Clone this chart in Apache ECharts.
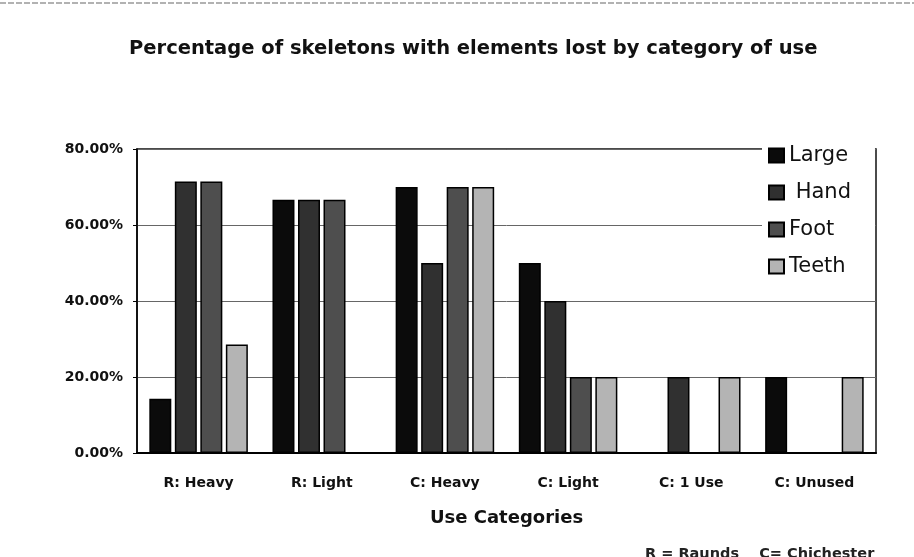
<!DOCTYPE html>
<html>
<head>
<meta charset="utf-8">
<script src="https://cdn.jsdelivr.net/npm/echarts@6/dist/echarts.min.js"></script>
<style>
  html, body { margin: 0; padding: 0; background: #fff; }
  #chart { width: 914px; height: 557px; }
</style>
</head>
<body>
<div id="chart"></div>
<script>
// categories and values (percent)
var categories = ["R: Heavy", "R: Light", "C: Heavy", "C: Light", "C: 1 Use", "C: Unused"];
var seriesNames = ["Large", " Hand", "Foot", "Teeth"];
var large = [14.29, 66.67, 70, 50, 0, 20];
var hand = [71.43, 66.67, 50, 40, 20, 0];
var foot = [71.43, 66.67, 70, 20, 0, 0];
var teeth = [28.57, 0, 70, 20, 20, 20];
var yTicks = [0, 20, 40, 60, 80];

var colors = ["#0b0b0b", "#303030", "#4e4e4e", "#b4b4b4"];
var values = [large, hand, foot, teeth];

var series = seriesNames.map(function (name, i) {
  return {
    name: name,
    type: "bar",
    data: values[i],
    barGap: "16%",
    barCategoryGap: "20%",
    itemStyle: { color: colors[i], borderColor: "#000", borderWidth: 1.5 },
  };
});

var chart = echarts.init(document.getElementById("chart"));
chart.setOption({
  animation: false,
  backgroundColor: "#fff",
  title: [
    {
      text: "Percentage of skeletons with elements lost by category of use",
      left: 124,
      top: 34,
      textStyle: { fontFamily: "DejaVu Sans", fontWeight: "bold", fontSize: 19.5, color: "#111" },
    },
    {
      text: "R = Raunds    C= Chichester",
      left: 640,
      top: 542,
      textStyle: { fontFamily: "DejaVu Sans", fontWeight: "bold", fontSize: 14.5, color: "#222" },
    },
  ],
  legend: {
    orient: "vertical",
    left: 762,
    top: 145,
    padding: [0, 24, 10, 6],
    backgroundColor: "#fff",
    icon: "rect",
    itemWidth: 15,
    itemHeight: 14,
    itemGap: 16,
    textStyle: { fontFamily: "DejaVu Sans", fontSize: 21, color: "#111" },
    data: seriesNames,
  },
  grid: {
    left: 137,
    right: 38,
    top: 149,
    bottom: 104,
    show: true,
    borderColor: "#111",
    borderWidth: 1.5,
  },
  xAxis: {
    type: "category",
    data: categories,
    name: "Use Categories",
    nameLocation: "middle",
    nameGap: 56,
    nameTextStyle: { fontFamily: "DejaVu Sans", fontWeight: "bold", fontSize: 18, color: "#111" },
    axisLine: { lineStyle: { color: "#000", width: 2 } },
    axisTick: { show: false },
    axisLabel: { margin: 23, fontFamily: "DejaVu Sans", fontWeight: "bold", fontSize: 14, color: "#111" },
  },
  yAxis: {
    type: "value",
    min: yTicks[0],
    max: yTicks[yTicks.length - 1],
    interval: 20,
    axisLine: { show: true, lineStyle: { color: "#000", width: 1.5 } },
    axisTick: { show: true, length: 4, lineStyle: { color: "#000" } },
    axisLabel: {
      margin: 14,
      fontFamily: "DejaVu Sans",
      fontWeight: "bold",
      fontSize: 14,
      color: "#111",
      formatter: function (v) { return v.toFixed(2) + "%"; },
    },
    splitLine: { lineStyle: { color: "#666", width: 1 } },
  },
  graphic: [
    {
      type: "line",
      shape: { x1: 0, y1: 3, x2: 914, y2: 3 },
      style: { stroke: "#999", lineWidth: 1.5, lineDash: [6, 2] },
    },
  ],
  series: series,
});
</script>
</body>
</html>
